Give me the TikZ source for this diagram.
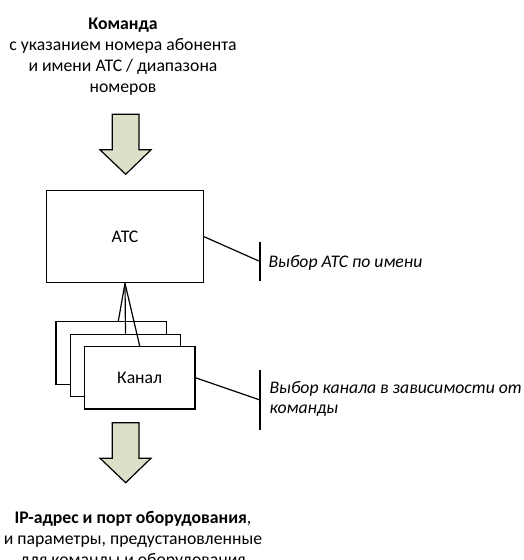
\documentclass[tikz,border=0pt]{standalone}
\usepackage{fontspec}
\setmainfont{Carlito}
\usetikzlibrary{calc}
\definecolor{arrowfill}{RGB}{221,224,200}

\begin{document}
\begin{tikzpicture}[x=1pt, y=-1pt, line width=1.2pt,
  font=\fontsize{17.7}{21}\selectfont,
  box/.style={draw, fill=white, inner sep=0pt},
  bigarrow/.style={draw, fill=arrowfill, line join=miter},
  note/.style={font=\fontsize{17.7}{20}\selectfont\itshape, anchor=west, align=left, inner sep=0pt}]
  \useasboundingbox (0,0) rectangle (524,560);

  % входные данные
  \node[align=center, anchor=north, inner sep=0pt] (cmd) at (123,17)
    {\textbf{Команда}\\с указанием номера абонента\\и имени АТС / диапазона\\номеров};

  % АТС
  \node[box, minimum width=157, minimum height=92] (atc) at (125,236.7) {АТС};

  % каналы (стопка)
  \foreach \i in {1,2,3}
    \node[box, minimum width=110.7, minimum height=62.5]
      (ch\i) at ({111.3+14.2*(\i-1)},{353+12.4*(\i-1)}) {};
  \node at (ch3.center) {Канал};

  % связи АТС -- каналы
  \draw (atc.south) -- ($(ch1.north)+(7,0)$);
  \draw (atc.south) -- (ch2.north);
  \draw (atc.south) -- (ch3.north);

  % стрелки
  \foreach \t in {114.3,422.7}
    \draw[bigarrow] (112.3,\t) -- (139,\t) -- (139,{\t+35.5}) -- (151,{\t+35.5})
      -- (125.7,{\t+60}) -- (100,{\t+35.5}) -- (112.3,{\t+35.5}) -- cycle;

  % пояснения
  \coordinate (n1) at (260,261.5);
  \draw (atc.east) -- (n1);
  \draw (260,241.7) -- (260,280.7);
  \node[note] (t1) at (268,263) {Выбор АТС по имени};

  \coordinate (n2) at (260,400);
  \draw (ch3.east) -- (n2);
  \draw (260,370) -- (260,430);
  \node[note] (t2) at (269,399) {Выбор канала в зависимости от\\команды};

  % результат
  \node[align=center, anchor=north, inner sep=0pt] (res) at (133,511)
    {\textbf{IP-адрес и порт оборудования},\\и параметры, предустановленные\\для команды и оборудования};
\end{tikzpicture}
\end{document}
